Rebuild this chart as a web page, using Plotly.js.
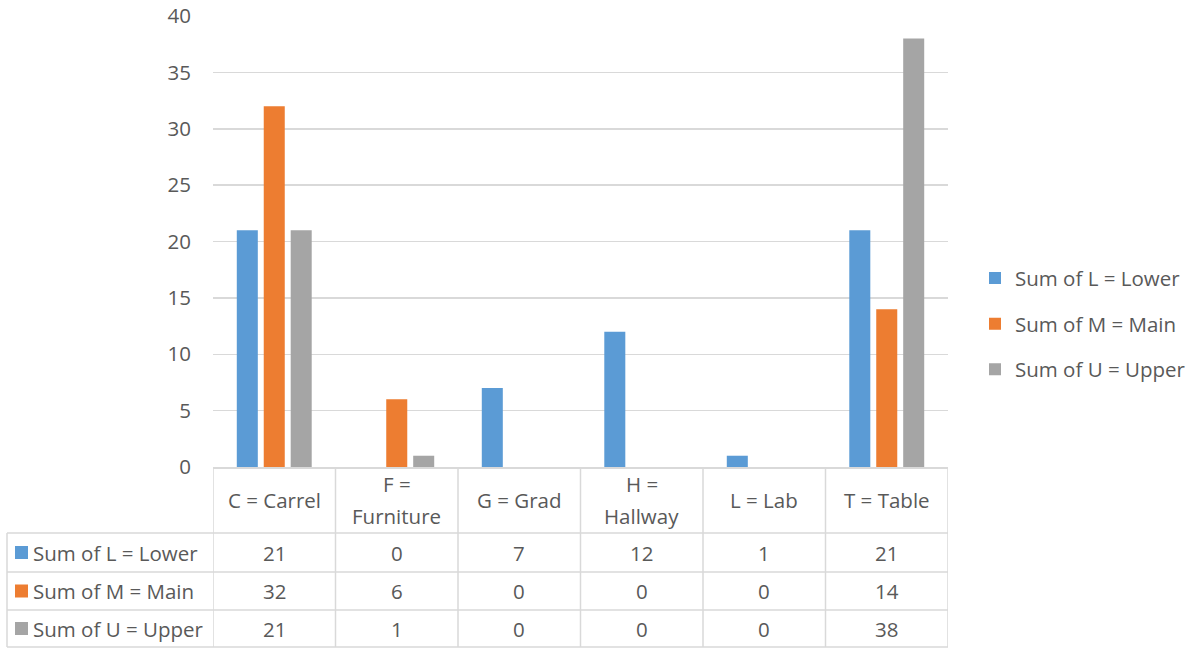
<!DOCTYPE html>
<html>
<head>
<meta charset="utf-8">
<script src="https://cdn.plot.ly/plotly-3.0.1.min.js"></script>
<style>html,body{margin:0;padding:0;background:#fff;}#chart{width:1192px;height:648px;}</style>
</head>
<body>
<div id="chart"></div>
<script>
const categories = ['C = Carrel', 'F = Furniture', 'G = Grad', 'H = Hallway', 'L = Lab', 'T = Table'];
const categoryLabels = ['C = Carrel', 'F =<br>Furniture', 'G = Grad', 'H =<br>Hallway', 'L = Lab', 'T = Table'];
const seriesNames = ['Sum of L = Lower', 'Sum of M = Main', 'Sum of U = Upper'];
const lowerValues = [21, 0, 7, 12, 1, 21];
const mainValues = [32, 6, 0, 0, 0, 14];
const upperValues = [21, 1, 0, 0, 0, 38];
const seriesValues = [lowerValues, mainValues, upperValues];
const colors = ['#5b9bd5', '#ed7d31', '#a5a5a5'];

const W = 1192, H = 648;
const mL = 213, mR = 244, mT = 16, mB = 181;
const plotW = W - mL - mR, plotH = H - mT - mB;
const px = p => (p - mL) / plotW;          // pixel x -> paper x
const py = p => (H - mB - p) / plotH;       // pixel y -> paper y
const font = '"Open Sans", Lato, sans-serif';
const fs = 20.5;
const txt = '#595959';
const lineCol = '#d9d9d9';

const traces = seriesNames.map((name, i) => ({
  type: 'bar', name: name, x: categories, y: seriesValues[i],
  marker: {color: colors[i]}, legendgroup: 'g' + i,
  hoverinfo: 'x+y+name'
}));

const shapes = [];
const annotations = [];
const tableTop = 467, headerBottom = 533, rowBottoms = [572, 610, 647];
const tableLeft = 7;

// vertical lines at category boundaries
for (let k = 0; k <= categories.length; k++) {
  shapes.push({type: 'line', xref: 'x', yref: 'paper', x0: k - 0.5, x1: k - 0.5,
    y0: py(tableTop), y1: py(H - 1), line: {color: lineCol, width: 1.5}});
}
// left border of row-header column
shapes.push({type: 'line', xref: 'paper', yref: 'paper', x0: px(tableLeft), x1: px(tableLeft),
  y0: py(headerBottom), y1: py(H - 1), line: {color: lineCol, width: 1.5}});
// horizontal lines
[headerBottom].concat(rowBottoms).forEach(yy => {
  shapes.push({type: 'line', xref: 'paper', yref: 'paper', x0: px(tableLeft), x1: 1,
    y0: py(yy), y1: py(yy), line: {color: lineCol, width: 1.5}});
});

// header labels (multi-line labels placed line by line for Excel-like spacing)
categories.forEach((c, j) => {
  const lines = categoryLabels[j].split('<br>');
  const mid = (tableTop + headerBottom) / 2;
  const step = 32;
  lines.forEach((ln, k) => {
    const yy = mid + (k - (lines.length - 1) / 2) * step;
    annotations.push({xref: 'x', yref: 'paper', x: j, y: py(yy),
      text: ln, showarrow: false, xanchor: 'center', yanchor: 'middle',
      font: {family: font, size: fs, color: txt}});
  });
});
// rows
seriesNames.forEach((name, i) => {
  const top = i === 0 ? headerBottom : rowBottoms[i - 1];
  const cy = (top + rowBottoms[i]) / 2;
  shapes.push({type: 'rect', xref: 'paper', yref: 'paper', x0: px(15), x1: px(28),
    y0: py(cy + 6.5), y1: py(cy - 6.5), fillcolor: colors[i], line: {width: 0}});
  annotations.push({xref: 'paper', yref: 'paper', x: px(31), y: py(cy), text: name,
    showarrow: false, xanchor: 'left', yanchor: 'middle', font: {family: font, size: fs, color: txt}});
  seriesValues[i].forEach((v, j) => {
    annotations.push({xref: 'x', yref: 'paper', x: j, y: py(cy), text: String(v),
      showarrow: false, xanchor: 'center', yanchor: 'middle', font: {family: font, size: fs, color: txt}});
  });
});

const layout = {
  width: W, height: H,
  margin: {l: mL, r: mR, t: mT, b: mB, pad: 0, autoexpand: false},
  paper_bgcolor: '#fff', plot_bgcolor: '#fff',
  barmode: 'group', bargap: 0.34, bargroupgap: 0.22,
  font: {family: font, size: fs, color: txt},
  xaxis: {type: 'category', range: [-0.5, 5.5], showticklabels: false, showgrid: false,
    showline: true, linecolor: lineCol, linewidth: 1.5, ticks: '', zeroline: false, fixedrange: true},
  yaxis: {range: [0, 40], dtick: 5, tick0: 0, showgrid: true, gridcolor: lineCol, gridwidth: 1.5,
    zeroline: false, showline: false, ticks: '', ticklabelstandoff: 21,
    tickfont: {family: font, size: fs, color: txt}, fixedrange: true},
  legend: {x: px(975), y: py(274) + 0.035, xanchor: 'left', yanchor: 'top',
    font: {family: font, size: fs, color: txt}, tracegroupgap: 16, bgcolor: 'rgba(0,0,0,0)',
    itemwidth: 30},
  shapes: shapes,
  annotations: annotations,
  showlegend: true
};

Plotly.newPlot('chart', traces, layout, {displayModeBar: false, staticPlot: true});
</script>
</body>
</html>
